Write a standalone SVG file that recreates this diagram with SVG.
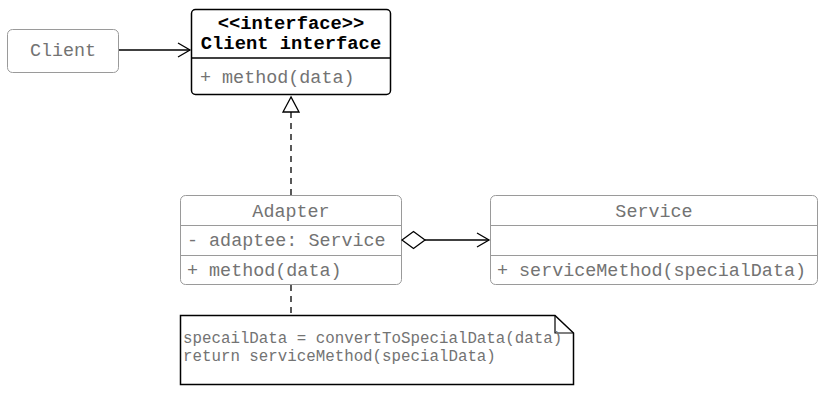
<svg xmlns="http://www.w3.org/2000/svg" width="827" height="400" viewBox="0 0 827 400">
<style>
.box{fill:#fff;stroke:#9a9a9a;stroke-width:1}
.ibox{fill:#fff;stroke:#000;stroke-width:1.5}
.sep{stroke:#9a9a9a;stroke-width:1}
.isep{stroke:#000;stroke-width:1.5}
.t{font-family:"Liberation Mono",monospace;font-size:18.4px;fill:#737373}
.tb{font-family:"Liberation Mono",monospace;font-size:18.8px;font-weight:bold;fill:#000}
.n{font-family:"Liberation Mono",monospace;font-size:15.8px;fill:#737373}
.c{text-anchor:middle}
.ln{stroke:#000;stroke-width:1.3;fill:none}
.dash{stroke-dasharray:6 5}
</style>
<defs>
<marker id="open" markerWidth="16" markerHeight="16" refX="14" refY="8" orient="auto" markerUnits="userSpaceOnUse">
<path d="M2,1 L14,8 L2,15" fill="none" stroke="#000" stroke-width="1.3"/>
</marker>
</defs>
<g id="client">
<rect class="box" x="7.5" y="29.5" width="111" height="43" rx="5"/>
<text class="t c" x="63" y="56">Client</text>
</g>
<g id="client-interface">
<rect class="ibox" x="191.5" y="9.5" width="199" height="85" rx="4"/>
<line class="isep" x1="191.5" y1="58" x2="390.5" y2="58"/>
<text class="tb c" x="291" y="29">&lt;&lt;interface&gt;&gt;</text>
<text class="tb c" x="291" y="49">Client interface</text>
<text class="t" x="200" y="83">+ method(data)</text>
</g>
<g id="adapter">
<rect class="box" x="180.5" y="195.5" width="221" height="89" rx="5"/>
<line class="sep" x1="180.5" y1="225.5" x2="401.5" y2="225.5"/>
<line class="sep" x1="180.5" y1="255.5" x2="401.5" y2="255.5"/>
<text class="t c" x="291" y="217">Adapter</text>
<text class="t" x="187" y="246">- adaptee: Service</text>
<text class="t" x="187" y="276">+ method(data)</text>
</g>
<g id="service">
<rect class="box" x="490.5" y="195.5" width="327" height="89" rx="5"/>
<line class="sep" x1="490.5" y1="225.5" x2="817.5" y2="225.5"/>
<line class="sep" x1="490.5" y1="255.5" x2="817.5" y2="255.5"/>
<text class="t c" x="654" y="217">Service</text>
<text class="t" x="497" y="276">+ serviceMethod(specialData)</text>
</g>
<g id="note">
<path d="M180.5,315.5 H555 L573.5,333 V384.5 H180.5 Z" fill="#fff" stroke="#000" stroke-width="1.5"/>
<path d="M555,315.5 V333 H573.5" fill="none" stroke="#000" stroke-width="1.2"/>
<text class="n" x="183" y="343">specailData = convertToSpecialData(data)</text>
<text class="n" x="183" y="361">return serviceMethod(specialData)</text>
</g>
<g id="connectors">
<line class="ln" x1="119" y1="50" x2="190" y2="50" marker-end="url(#open)"/>
<line class="ln dash" x1="291" y1="112" x2="291" y2="195"/>
<path d="M291,97 L283,112 L299,112 Z" fill="#fff" stroke="#000" stroke-width="1.3"/>
<path d="M402,240 L413.5,231.5 L425,240 L413.5,248.5 Z" fill="#fff" stroke="#000" stroke-width="1.3"/>
<line class="ln" x1="425" y1="240" x2="489" y2="240" marker-end="url(#open)"/>
<line class="ln dash" x1="291" y1="285" x2="291" y2="315"/>
</g>
</svg>
